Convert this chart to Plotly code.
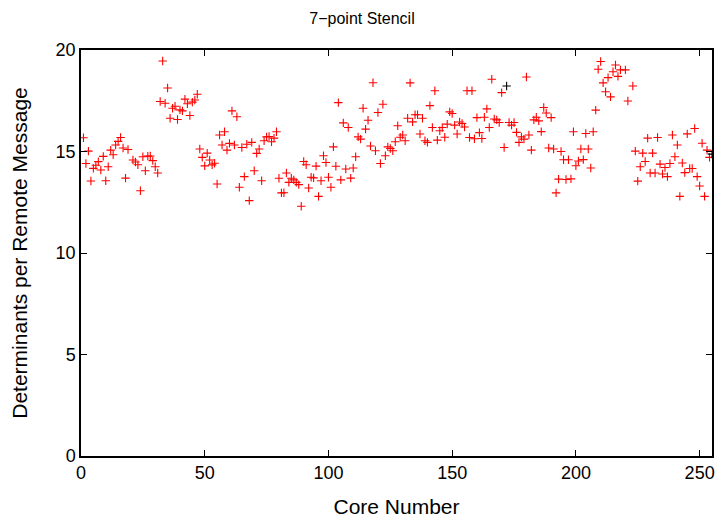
import plotly.graph_objects as go

# core numbers and determinants per remote message
cores = list(range(1, 256))
values = [
    15.68, 14.41, 15.02, 13.55, 14.17, 14.32, 14.50, 14.09, 14.76, 13.56,
    14.25, 15.07, 14.84, 15.32, 15.50, 15.69, 15.17, 13.69, 15.10, None,
    14.58, 14.48, 14.35, 13.07, 14.74, 14.05, 14.77, 14.78, 14.55, 14.25,
    13.94, 17.46, 19.46, 17.38, 18.13, 16.64, 17.13, 17.23, 16.58, 17.05,
    17.00, 17.58, 17.35, 16.77, 17.43, 17.54, 17.82, 15.12, 14.71, 14.29,
    14.92, 14.58, 14.34, 14.42, 13.40, 15.81, 15.32, 15.97, 15.07, 15.40,
    17.00, 15.32, 16.71, 13.24, 15.20, 13.76, 15.36, 12.58, 15.45, 14.05,
    14.91, 15.12, 13.56, 15.53, 15.72, 15.74, 15.48, 15.66, 15.97, 13.68,
    12.96, 12.97, 13.94, 13.48, 13.68, 13.60, 13.48, 13.37, 12.30, 14.51,
    14.35, 13.20, 13.73, 13.70, 14.28, 12.79, 13.56, 14.79, 14.46, 13.73,
    13.24, 15.23, 14.27, 17.41, 13.60, 16.41, 14.14, 16.18, 13.69, 14.19,
    14.74, 15.72, 15.61, 17.13, 16.10, 16.54, 15.27, 18.39, 15.04, 16.92,
    14.41, 17.33, 14.79, 15.23, 15.15, 15.04, 15.48, 16.27, 15.70, 15.81,
    15.53, 16.64, 18.38, 16.46, 16.81, 16.81, 15.86, 16.64, 15.53, 15.45,
    17.26, 16.18, 17.99, 15.56, 16.02, 16.18, 15.70, 16.35, 16.95, 16.87,
    16.30, 15.86, 16.45, 16.38, 16.21, 17.99, 15.69, 17.99, 15.63, 16.67,
    15.93, 15.64, 16.69, 17.10, 16.18, 18.56, 16.60, 16.56, 16.43, 17.90,
    15.20, 18.23, 16.43, 16.30, 16.43, 15.94, 15.45, 15.72, 15.61, 18.67,
    15.81, 15.07, 16.56, 16.69, 16.51, 15.98, 17.17, 16.90, 15.17, 16.67,
    15.12, 12.96, 13.64, 15.00, 14.59, 13.62, 14.59, 13.65, 15.97, 14.30,
    14.53, 15.12, 14.60, 15.89, 15.12, 14.19, 15.97, 17.04, 19.05, 19.43,
    18.38, 17.94, 18.64, 17.69, 18.93, 19.26, 18.70, 19.02, None, 19.02,
    17.49, None, 18.23, 15.02, 13.54, 14.25, 14.92, 14.51, 15.66, 13.94,
    14.92, 13.94, 15.69, 14.38, 13.89, 14.21, 13.76, 14.41, 15.81, 14.74,
    15.32, 12.79, 14.43, 13.96, 15.87, 14.16, 14.16, 16.13, 13.76, 13.30,
    15.41, 12.79, 15.07, 14.71, 14.87,
]
# the few points that show up black in the picture
black_cores = [172, 255]

x_ticks = [0, 50, 100, 150, 200, 250]
y_ticks = [0, 5, 10, 15, 20]

red_x = [c for c, v in zip(cores, values) if c not in black_cores]
red_y = [v for c, v in zip(cores, values) if c not in black_cores]
blk_x = [c for c, v in zip(cores, values) if c in black_cores]
blk_y = [v for c, v in zip(cores, values) if c in black_cores]

fig = go.Figure()
fig.add_trace(go.Scatter(x=red_x, y=red_y, mode="markers",
                         marker=dict(symbol="cross-thin", size=6,
                                     line=dict(color="#ff0000", width=1.1))))
fig.add_trace(go.Scatter(x=blk_x, y=blk_y, mode="markers",
                         marker=dict(symbol="cross-thin", size=6,
                                     line=dict(color="#000000", width=1.1))))

axis_style = dict(showline=True, linecolor="black", linewidth=1.5, mirror="allticks",
                  ticks="inside", ticklen=6, tickwidth=1, tickcolor="black",
                  showgrid=False, zeroline=False, automargin=False,
                  tickfont=dict(family="Liberation Sans", size=18, color="black"))

# the page body has an 8px margin, so the figure is 8px smaller each way
fig.update_layout(
    width=716, height=510,
    margin=dict(l=73, r=12, t=42, b=62),
    paper_bgcolor="white", plot_bgcolor="white",
    showlegend=False,
    font=dict(family="Liberation Sans", color="black"),
    title=dict(text="7\u2212point Stencil", x=0.5 - 4 / 716, xref="container", xanchor="center",
               y=0.98, yref="container", yanchor="middle",
               font=dict(family="Liberation Sans", size=16, color="black")),
    xaxis=dict(range=[0, 255], tickvals=x_ticks,
               title=dict(text="Core Number", standoff=29,
                          font=dict(family="Liberation Sans", size=21)),
               **axis_style),
    yaxis=dict(range=[0, 20], tickvals=y_ticks,
               title=dict(text="Determinants per Remote Message", standoff=29,
                          font=dict(family="Liberation Sans", size=21)),
               **axis_style),
)

fig.write_html("out.html")
